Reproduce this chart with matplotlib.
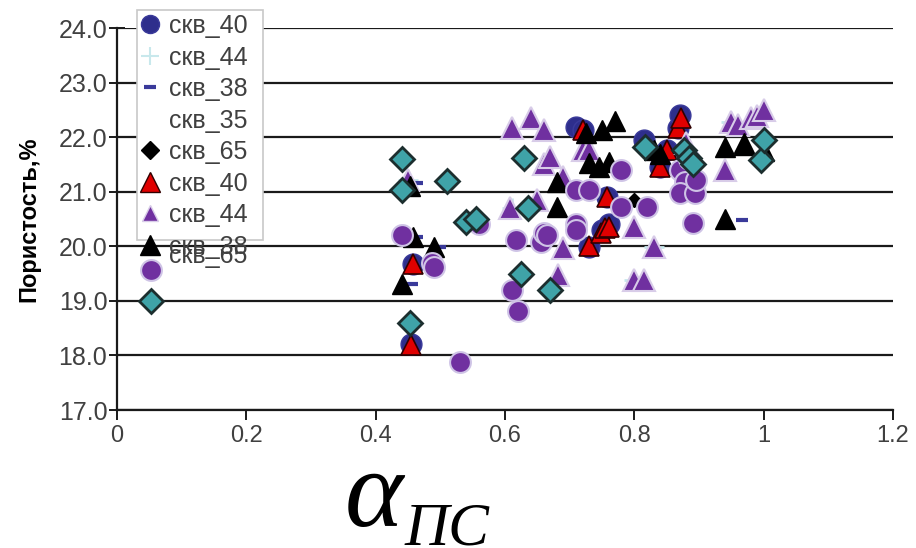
import matplotlib
matplotlib.use('Agg')
import matplotlib.pyplot as plt
from matplotlib.lines import Line2D
from matplotlib.patches import Rectangle

# скв_40 (navy circles)
c40_x = [0.455, 0.457, 0.71, 0.72, 0.73, 0.75, 0.757, 0.76, 0.815, 0.84, 0.85, 0.868, 0.87]
c40_y = [18.21, 19.68, 22.18, 22.13, 19.98, 20.3, 20.9, 20.4, 21.95, 21.45, 21.77, 22.17, 22.4]

# скв_44 (light plus, mostly hidden)
p44_x = [0.80, 0.83, 0.95, 0.61, 0.45]
p44_y = [19.38, 19.98, 22.28, 20.7, 21.22]

# скв_38 (navy dashes)
d38_x = [0.966, 0.464, 0.50, 0.456, 0.464]
d38_y = [20.48, 20.17, 19.99, 19.3, 21.16]

# скв_65 (black diamond)
k65_x = [0.80]
k65_y = [20.85]

# скв_40 (red triangles)
t40_x = [0.455, 0.457, 0.72, 0.73, 0.748, 0.755, 0.76, 0.757, 0.84, 0.85, 0.868, 0.872]
t40_y = [18.2, 19.68, 22.13, 20.0, 20.25, 20.34, 20.36, 20.9, 21.45, 21.77, 22.17, 22.35]

# скв_44 (purple triangles)
t44_x = [0.45, 0.607, 0.61, 0.64, 0.66, 0.66, 0.67, 0.65, 0.69, 0.72, 0.73, 0.682,
         0.689, 0.80, 0.83, 0.80, 0.815, 0.94, 0.95, 0.96, 0.98, 0.99, 1.0, 0.88]
t44_y = [21.22, 20.7, 22.17, 22.35, 22.13, 21.5, 21.64, 20.85, 21.27, 21.77, 21.77, 19.48,
         19.97, 20.36, 19.98, 19.38, 19.38, 21.4, 22.28, 22.22, 22.35, 22.38, 22.5, 21.9]

# скв_38 (black triangles)
t38_x = [0.44, 0.453, 0.457, 0.49, 0.68, 0.68, 0.725, 0.75, 0.77, 0.73, 0.745, 0.76,
         0.83, 0.84, 0.94, 0.94, 0.97, 1.0, 0.97, 0.88]
t38_y = [19.3, 21.1, 20.17, 19.99, 21.18, 20.72, 22.07, 22.13, 22.3, 21.53, 21.46, 21.55,
         21.77, 21.7, 20.5, 21.82, 21.9, 21.75, 21.85, 21.75]

# скв_65 (purple circles)
o65_x = [0.053, 0.44, 0.487, 0.49, 0.56, 0.617, 0.61, 0.62, 0.655, 0.66, 0.665, 0.53,
         0.71, 0.71, 0.71, 0.73, 0.78, 0.78, 0.82, 0.89, 0.87, 0.878, 0.87, 0.893, 0.895, 0.885]
o65_y = [19.57, 20.21, 19.7, 19.62, 20.4, 20.12, 19.2, 18.82, 20.08, 20.25, 20.2, 17.88,
         21.03, 20.4, 20.3, 21.03, 21.4, 20.72, 20.72, 20.43, 21.4, 21.18, 20.98, 20.98, 21.22, 21.6]

# teal diamonds
dm_x = [0.053, 0.44, 0.44, 0.51, 0.54, 0.555, 0.453, 0.63, 0.635, 0.625, 0.67,
        0.816, 0.876, 0.885, 0.89, 0.995, 1.0]
dm_y = [19.0, 21.6, 21.03, 21.2, 20.45, 20.5, 18.6, 21.62, 20.7, 19.5, 19.2,
        21.82, 21.77, 21.62, 21.5, 21.58, 21.95]

legend_labels = ['скв_40', 'скв_44', 'скв_38', 'скв_35', 'скв_65',
                 'скв_40', 'скв_44', 'скв_38']
extra_label = 'скв_65'

x_ticks = [0, 0.2, 0.4, 0.6, 0.8, 1.0, 1.2]
x_ticklabels = ['0', '0.2', '0.4', '0.6', '0.8', '1', '1.2']
y_ticks = [17, 18, 19, 20, 21, 22, 23, 24]

plt.rcParams['font.family'] = ['Liberation Sans', 'DejaVu Sans']

fig = plt.figure(figsize=(9.16, 5.48), dpi=100)
ax = fig.add_axes([0.1277, 0.2518, 0.8473, 0.6971])

grey = '#404040'
purple = '#7030A0'

ax.set_xlim(0, 1.2)
ax.set_ylim(17, 24)
for yv in y_ticks:
    ax.axhline(yv, color='#1a1a1a', lw=1.6, zorder=1)

ax.plot(c40_x, c40_y, 'o', ms=15, mfc='#2E2E8C', mec='#3A3A9A', ls='none', zorder=2)
ax.plot(p44_x, p44_y, '+', ms=14, mew=2, color='#C8E8EC', ls='none', zorder=2)
ax.plot(d38_x, d38_y, '_', ms=8, mew=3, color='#3A3A9A', ls='none', zorder=2)
ax.plot(k65_x, k65_y, 'D', ms=7, color='black', ls='none', zorder=2)
ax.plot(t40_x, t40_y, '^', ms=15, mfc='#E00000', mec='#300000', mew=1.2, ls='none', zorder=3)
ax.plot(t44_x, t44_y, '^', ms=16, mfc=purple, mec='#D8CCE8', mew=1.5, ls='none', zorder=3)
ax.plot(t38_x, t38_y, '^', ms=15, color='black', ls='none', zorder=4)
ax.plot(o65_x, o65_y, 'o', ms=15, mfc=purple, mec='#CFC4E6', mew=1.5, ls='none', zorder=4)
ax.plot(dm_x, dm_y, 'D', ms=12, mfc='#3FA3A8', mec='#1C2E2E', mew=2, ls='none', zorder=5)

for s in ['top', 'right']:
    ax.spines[s].set_visible(False)
for s in ['left', 'bottom']:
    ax.spines[s].set_color('#1a1a1a')
    ax.spines[s].set_linewidth(1.6)

ax.set_xticks(x_ticks)
ax.set_xticklabels(x_ticklabels)
ax.set_yticks(y_ticks)
ax.set_yticklabels(['%.1f' % v for v in y_ticks])
ax.tick_params(axis='y', direction='inout', length=12, width=1.4, colors='#1a1a1a',
               labelcolor=grey, labelsize=18, pad=1)
ax.tick_params(axis='x', direction='out', length=7, width=1.4, colors='#1a1a1a',
               labelcolor=grey, labelsize=17, pad=4)

ax.set_ylabel('Пористость,%', fontsize=17, fontweight='bold', color='black', labelpad=13)

# legend frame drawn separately (entries overflow the box)
fig.patches.append(Rectangle((0.1496, 0.562), 0.1376, 0.42, transform=fig.transFigure,
                             facecolor='white', edgecolor='#c8c8c8', lw=1.2, zorder=10))
handles = [
    Line2D([], [], marker='o', ms=13, mfc='#2E2E8C', mec='#3A3A9A', ls='none'),
    Line2D([], [], marker='+', ms=13, mew=1.5, color='#C8E8EC', ls='none'),
    Line2D([], [], marker='_', ms=8, mew=3, color='#3A3A9A', ls='none'),
    Line2D([], [], marker='none', ls='none'),
    Line2D([], [], marker='D', ms=9, color='black', ls='none'),
    Line2D([], [], marker='^', ms=15, mfc='#E00000', mec='#300000', ls='none'),
    Line2D([], [], marker='^', ms=11, mfc=purple, mec='#D8CCE8', ls='none'),
    Line2D([], [], marker='^', ms=15, color='black', ls='none'),
]
leg = fig.legend(handles, legend_labels, loc='upper left', bbox_to_anchor=(0.137, 0.997),
                 frameon=False, fontsize=18, labelcolor=grey, handlelength=1.0,
                 handletextpad=0.25, labelspacing=0.3, borderpad=0)
leg.set_zorder(11)
fig.text(0.185, 0.532, extra_label, fontsize=18, color=grey, va='center', zorder=11)

# axis title: alpha with subscript
fig.text(0.408, 0.04, 'α', fontsize=80, family='Liberation Serif', style='italic',
         ha='center', va='baseline')
fig.text(0.442, 0.006, 'ПС', fontsize=44, family='Liberation Serif', style='italic',
         ha='left', va='baseline')

fig.savefig('out.png', dpi=100)
